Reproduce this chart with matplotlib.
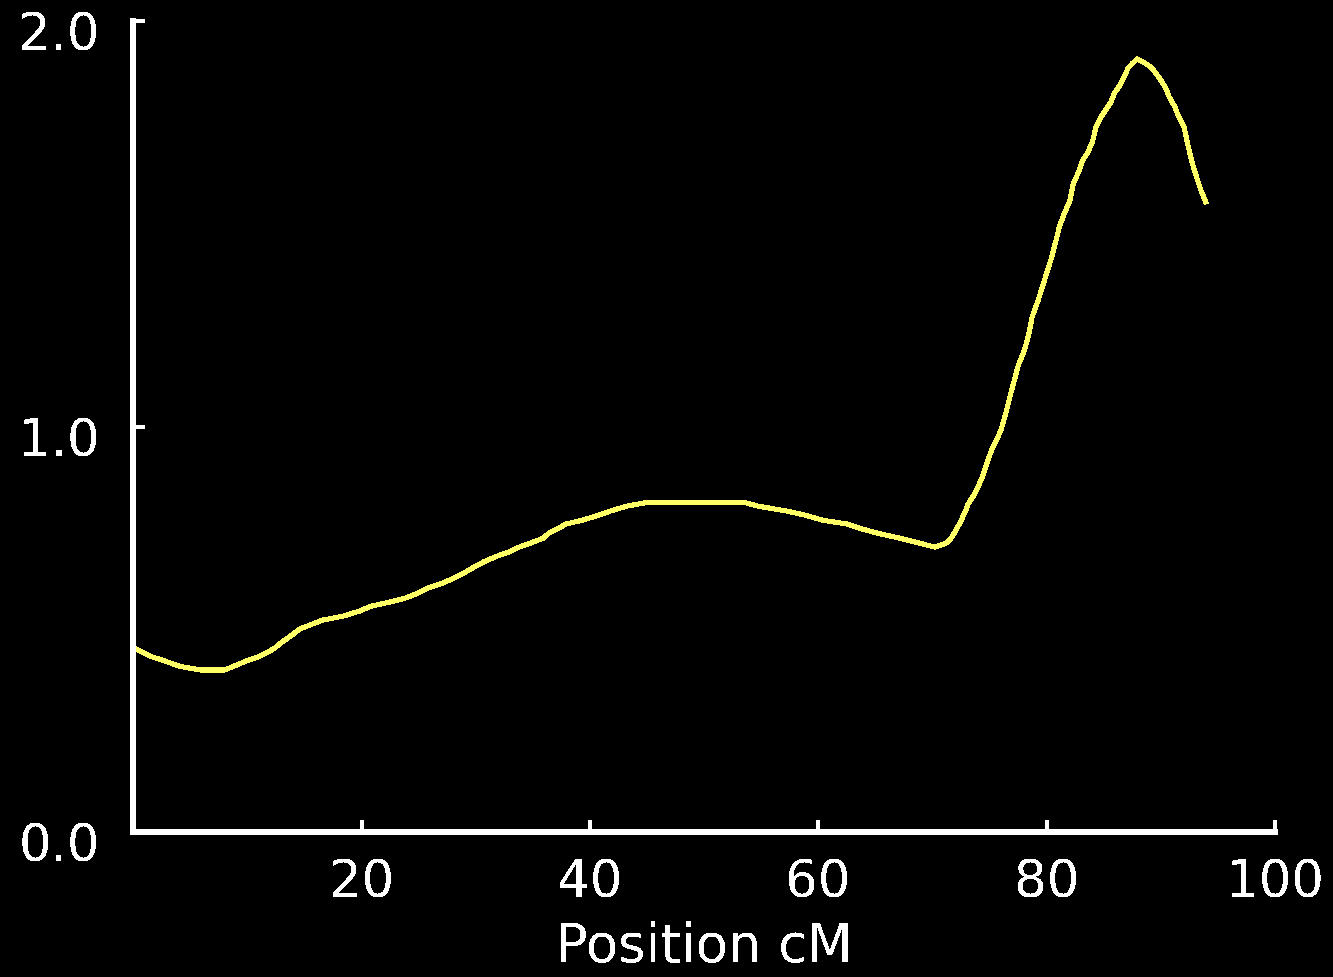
import matplotlib
matplotlib.use('Agg')
import matplotlib.pyplot as plt
import matplotlib.transforms as mtransforms

# LOD-style profile (position cM, score)
position_cm = [0.0, 1.5, 2.8, 4.1, 5.9, 8.0, 8.8, 9.9, 10.9, 11.8, 12.4, 12.9,
               13.5, 14.0, 14.6, 15.4, 16.6, 18.4, 19.8, 20.8, 22.4, 23.8,
               24.9, 25.8, 26.9, 27.9, 28.6, 29.4, 30.1, 30.8, 31.9, 32.8,
               33.8, 34.8, 35.9, 36.4, 37.1, 37.9, 39.3, 40.8, 41.8, 43.2,
               45.2, 49.6, 53.4, 54.7, 57.2, 58.8, 60.4, 62.5, 63.9, 65.2,
               67.1, 68.8, 70.2, 71.2, 71.6, 72.0, 72.4, 72.8, 73.1, 73.6,
               74.0, 74.4, 74.8, 75.2, 75.6, 76.0, 76.4, 76.8, 77.2, 77.5,
               78.0, 78.4, 78.7, 79.2, 79.6, 80.0, 80.4, 80.8, 81.1, 81.5,
               82.0, 82.3, 82.8, 83.1, 83.6, 84.0, 84.3, 84.8, 85.2, 85.6,
               85.9, 86.4, 86.8, 87.1, 87.5, 87.9, 88.6, 89.2, 89.5, 89.9,
               90.4, 90.7, 91.2, 91.5, 92.0, 92.3, 92.7, 93.1, 93.5, 93.9]
lod_score = [0.456, 0.434, 0.422, 0.409, 0.400, 0.400, 0.409, 0.422, 0.432,
             0.444, 0.454, 0.466, 0.478, 0.488, 0.501, 0.510, 0.523, 0.533,
             0.545, 0.557, 0.567, 0.577, 0.589, 0.602, 0.612, 0.624, 0.634,
             0.646, 0.658, 0.668, 0.681, 0.690, 0.703, 0.713, 0.725, 0.737,
             0.747, 0.760, 0.769, 0.782, 0.792, 0.804, 0.814, 0.814, 0.814,
             0.804, 0.792, 0.782, 0.769, 0.760, 0.747, 0.737, 0.725, 0.713,
             0.703, 0.713, 0.725, 0.742, 0.764, 0.787, 0.809, 0.831, 0.853,
             0.880, 0.915, 0.945, 0.967, 0.994, 1.033, 1.078, 1.120, 1.152,
             1.186, 1.226, 1.270, 1.309, 1.344, 1.381, 1.416, 1.460, 1.494,
             1.524, 1.556, 1.598, 1.630, 1.655, 1.677, 1.704, 1.739, 1.766,
             1.783, 1.800, 1.822, 1.842, 1.864, 1.884, 1.896, 1.906, 1.896,
             1.884, 1.872, 1.857, 1.835, 1.813, 1.788, 1.766, 1.739, 1.699,
             1.652, 1.615, 1.581, 1.554]

x_ticks = [20, 40, 60, 80, 100]
y_ticks = [0.0, 1.0, 2.0]

plt.rcParams['text.antialiased'] = False
plt.rcParams['font.family'] = ['DejaVu Sans']

fig = plt.figure(figsize=(13.33, 9.78), dpi=100, facecolor='black')
ax = fig.add_axes([0.0998, 0.148, 0.857, 0.8295], facecolor='black')

ax.plot(position_cm, lod_score, color='#ffff66', lw=2.9, antialiased=False,
        solid_joinstyle='miter')

ax.set_xlim(0, 100)
ax.set_ylim(0, 2.0)
ax.set_xticks(x_ticks)
ax.set_yticks(y_ticks)
ax.set_yticklabels(['%.1f' % v for v in y_ticks])

for side in ['top', 'right']:
    ax.spines[side].set_visible(False)
for side in ['left', 'bottom']:
    ax.spines[side].set_color('white')
    ax.spines[side].set_linewidth(2.9)
    ax.spines[side].set_antialiased(False)

ax.tick_params(axis='both', direction='in', length=8.6, width=2.9,
               colors='white', labelsize=37)
ax.tick_params(axis='x', pad=18)
ax.tick_params(axis='y', pad=24)

# y labels sit a little below their tick
offset = mtransforms.ScaledTranslation(0, -9 / 100, fig.dpi_scale_trans)
for lab in ax.get_yticklabels():
    lab.set_transform(lab.get_transform() + offset)

ax.set_xlabel('Position cM', color='white', fontsize=38, labelpad=9)

fig.savefig('out.png', dpi=100, facecolor='black')
